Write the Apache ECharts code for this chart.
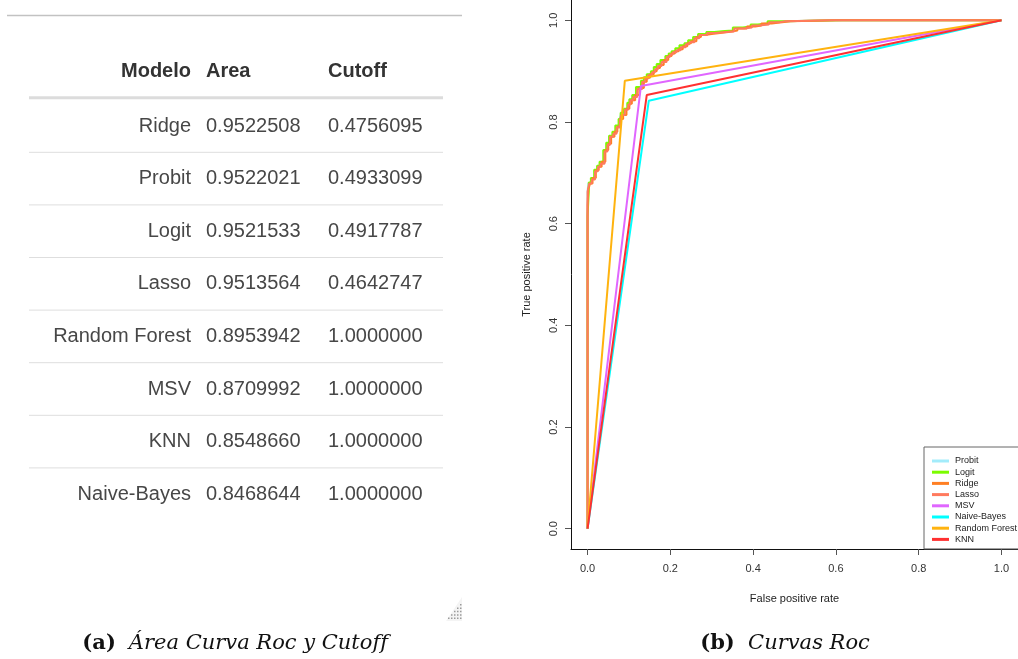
<!DOCTYPE html>
<html lang="es">
<head>
<meta charset="UTF-8">
<title>Curvas Roc</title>
<style>
  html, body { margin: 0; padding: 0; background: #fff; }
  #chart { width: 1018px; height: 659px; }
</style>
</head>
<body>
<div id="chart"></div>
<script src="https://cdn.jsdelivr.net/npm/echarts@6/dist/echarts.min.js"></script>
<script>
// tabla (a)
const tableModels = ['Ridge', 'Probit', 'Logit', 'Lasso', 'Random Forest', 'MSV', 'KNN', 'Naive-Bayes']
const tableAreas = [0.9522508, 0.9522021, 0.9521533, 0.9513564, 0.8953942, 0.8709992, 0.8548660, 0.8468644]
const tableCutoffs = [0.4756095, 0.4933099, 0.4917787, 0.4642747, 1, 1, 1, 1]
const tableHeader = ['Modelo', 'Area', 'Cutoff']

// curvas roc (b): [fpr, tpr]
const legendNames = ['Probit', 'Logit', 'Ridge', 'Lasso', 'MSV', 'Naive-Bayes', 'Random Forest', 'KNN']
const lineColors = ['#a3ecfb', '#7cfc00', '#ff7f24', '#ff7a5e', '#e066ff', '#00ffff', '#ffb30f', '#ff3030']
const xTicks = [0, 0.2, 0.4, 0.6, 0.8, 1.0]
const yTicks = [0, 0.2, 0.4, 0.6, 0.8, 1.0]

const rocProbit = [[0, 0], [0, 0.620], [0.002, 0.664], [0.009, 0.680], [0.017, 0.689], [0.024, 0.704], [0.030, 0.713],
  [0.040, 0.720], [0.047, 0.744], [0.053, 0.757], [0.061, 0.772], [0.069, 0.779], [0.077, 0.791], [0.081, 0.805],
  [0.089, 0.816], [0.097, 0.825], [0.102, 0.836], [0.109, 0.844], [0.119, 0.851], [0.131, 0.867], [0.138, 0.880],
  [0.145, 0.886], [0.155, 0.893], [0.162, 0.899], [0.169, 0.906], [0.178, 0.912], [0.190, 0.920], [0.198, 0.929],
  [0.205, 0.934], [0.214, 0.938], [0.224, 0.943], [0.236, 0.949], [0.245, 0.954], [0.257, 0.959], [0.269, 0.966],
  [0.277, 0.972], [0.288, 0.972], [0.308, 0.976], [0.334, 0.978], [0.353, 0.979], [0.377, 0.985], [0.396, 0.987],
  [0.413, 0.991], [0.437, 0.993], [0.460, 0.997], [0.477, 0.998], [0.600, 1.0], [1, 1]]
const rocLogit = [[0, 0], [0, 0.609], [0.003, 0.614], [0.003, 0.665], [0.008, 0.681], [0.016, 0.690], [0.023, 0.706],
  [0.029, 0.714], [0.038, 0.722], [0.045, 0.745], [0.052, 0.759], [0.060, 0.773], [0.067, 0.781], [0.075, 0.793],
  [0.080, 0.806], [0.088, 0.818], [0.096, 0.826], [0.101, 0.838], [0.108, 0.845], [0.117, 0.853], [0.129, 0.869],
  [0.136, 0.881], [0.143, 0.888], [0.153, 0.894], [0.160, 0.900], [0.167, 0.908], [0.176, 0.914], [0.188, 0.922],
  [0.196, 0.930], [0.203, 0.935], [0.212, 0.939], [0.222, 0.945], [0.234, 0.951], [0.243, 0.955], [0.255, 0.961],
  [0.267, 0.967], [0.275, 0.973], [0.287, 0.973], [0.306, 0.977], [0.332, 0.979], [0.351, 0.980], [0.375, 0.986],
  [0.394, 0.988], [0.411, 0.992], [0.435, 0.994], [0.458, 0.998], [0.475, 0.998], [0.615, 1.0], [1, 1]]
const rocRidge = [[0, 0], [0.002, 0.636], [0.006, 0.668], [0.012, 0.679], [0.020, 0.690], [0.027, 0.705], [0.034, 0.712],
  [0.043, 0.722], [0.050, 0.745], [0.057, 0.757], [0.065, 0.771], [0.072, 0.781], [0.080, 0.791], [0.086, 0.806],
  [0.094, 0.814], [0.101, 0.826], [0.107, 0.836], [0.115, 0.843], [0.125, 0.853], [0.136, 0.867], [0.143, 0.879],
  [0.151, 0.887], [0.160, 0.894], [0.167, 0.900], [0.175, 0.906], [0.184, 0.912], [0.195, 0.922], [0.203, 0.930],
  [0.211, 0.935], [0.220, 0.939], [0.230, 0.943], [0.241, 0.949], [0.250, 0.955], [0.263, 0.959], [0.274, 0.967],
  [0.283, 0.971], [0.300, 0.973], [0.320, 0.975], [0.340, 0.977], [0.362, 0.980], [0.385, 0.984], [0.405, 0.988],
  [0.420, 0.990], [0.445, 0.994], [0.470, 0.996], [0.490, 0.998], [0.600, 1.0], [1, 1]]
const rocLasso = [[0, 0], [0, 0.636], [0.004, 0.663], [0.010, 0.679], [0.018, 0.687], [0.025, 0.703], [0.031, 0.712],
  [0.041, 0.718], [0.048, 0.742], [0.054, 0.755], [0.062, 0.771], [0.070, 0.777], [0.078, 0.789], [0.082, 0.804],
  [0.090, 0.814], [0.098, 0.824], [0.103, 0.834], [0.110, 0.843], [0.120, 0.849], [0.132, 0.865], [0.139, 0.879],
  [0.146, 0.885], [0.156, 0.892], [0.163, 0.898], [0.170, 0.904], [0.179, 0.910], [0.191, 0.918], [0.199, 0.928],
  [0.206, 0.933], [0.215, 0.937], [0.225, 0.941], [0.237, 0.947], [0.246, 0.953], [0.258, 0.957], [0.270, 0.965],
  [0.278, 0.971], [0.289, 0.971], [0.309, 0.975], [0.335, 0.977], [0.354, 0.978], [0.378, 0.984], [0.397, 0.986],
  [0.414, 0.990], [0.438, 0.992], [0.462, 0.996], [0.478, 0.998], [0.589, 1.0], [1, 1]]
const rocMSV = [[0, 0], [0.129, 0.871], [1, 1]]
const rocNaiveBayes = [[0, 0], [0.148, 0.842], [1, 1]]
const rocRandomForest = [[0, 0], [0.090, 0.881], [1, 1]]
const rocKNN = [[0, 0], [0.143, 0.853], [1, 1]]

const rocData = [rocProbit, rocLogit, rocRidge, rocLasso, rocMSV, rocNaiveBayes, rocRandomForest, rocKNN]
const stepped = [true, true, true, true, false, false, false, false]

const sans = '"Liberation Sans", Arial, sans-serif'
const serif = '"DejaVu Serif", "Liberation Serif", serif'

// piezas de la tabla como elementos graphic
const graphics = []
graphics.push({ type: 'line', shape: { x1: 7, y1: 15.5, x2: 462, y2: 15.5 }, style: { stroke: '#c2c2c2', lineWidth: 1.5 } })

const colX = [191, 206, 328]
const colAlign = ['right', 'left', 'left']
tableHeader.forEach((h, j) => {
  graphics.push({
    type: 'text',
    style: { text: h, x: colX[j], y: 71, align: colAlign[j], verticalAlign: 'middle',
      fontFamily: sans, fontSize: 20, fontWeight: 'bold', fill: '#333' }
  })
})
graphics.push({ type: 'line', shape: { x1: 29, y1: 97.7, x2: 443, y2: 97.7 }, style: { stroke: '#dcdcdc', lineWidth: 3 } })

const rowStep = 52.6
tableModels.forEach((m, i) => {
  const y = 126 + i * rowStep
  const cells = [m, tableAreas[i].toFixed(7), tableCutoffs[i].toFixed(7)]
  cells.forEach((c, j) => {
    graphics.push({
      type: 'text',
      style: { text: c, x: colX[j], y: y, align: colAlign[j], verticalAlign: 'middle',
        fontFamily: sans, fontSize: 20, fill: '#474747' }
    })
  })
  if (i < tableModels.length - 1) {
    const ly = y + rowStep / 2
    graphics.push({ type: 'line', shape: { x1: 29, y1: ly, x2: 443, y2: ly }, style: { stroke: '#dedede', lineWidth: 1 } })
  }
})

// asa de redimension
graphics.push({ type: 'polygon', shape: { points: [[462, 597], [462, 621], [446, 621]] }, style: { fill: '#f4f4f4' } })
for (let r = 0; r < 5; r++) {
  for (let c = 0; c <= r; c++) {
    graphics.push({ type: 'rect', shape: { x: 460 - c * 3, y: 604 + r * 3.4, width: 1.5, height: 1.5 }, style: { fill: '#9a9a9a' } })
  }
}

// subtitulos
const captionRich = {
  b: { fontFamily: serif, fontSize: 21, fontWeight: 'bold', fill: '#111' },
  i: { fontFamily: serif, fontSize: 21, fontStyle: 'italic', fill: '#111' }
}
graphics.push({
  type: 'text',
  style: { text: '{b|(a)}  {i|Área Curva Roc y Cutoff}', x: 235, y: 644, align: 'center', verticalAlign: 'middle',
    rich: captionRich, fontFamily: serif, fontSize: 21, fill: '#111' }
})
graphics.push({
  type: 'text',
  style: { text: '{b|(b)}  {i|Curvas Roc}', x: 785, y: 644, align: 'center', verticalAlign: 'middle',
    rich: captionRich, fontFamily: serif, fontSize: 21, fill: '#111' }
})

const series = legendNames.map((name, k) => ({
  name: name,
  type: 'line',
  data: rocData[k],
  step: stepped[k] ? 'start' : false,
  symbol: 'none',
  animation: false,
  lineStyle: { color: lineColors[k], width: 2 },
  itemStyle: { color: lineColors[k] }
}))

const myChart = echarts.init(document.getElementById('chart'), null, { renderer: 'canvas' })
const option = {
  backgroundColor: '#fff',
  animation: false,
  grid: { left: 571, top: -2, width: 451, height: 551, containLabel: false },
  xAxis: {
    type: 'value',
    min: -0.04,
    max: 1.04,
    name: 'False positive rate',
    nameLocation: 'middle',
    nameGap: 44,
    nameTextStyle: { fontFamily: sans, fontSize: 11, color: '#222' },
    axisLine: { show: true, onZero: false, lineStyle: { color: '#111', width: 1 } },
    axisTick: { show: true, customValues: xTicks, length: 6, lineStyle: { color: '#555' } },
    axisLabel: { customValues: xTicks, formatter: v => v.toFixed(1), margin: 14,
      fontFamily: sans, fontSize: 11, color: '#333' },
    splitLine: { show: false }
  },
  yAxis: {
    type: 'value',
    min: -0.04,
    max: 1.04,
    name: 'True positive rate',
    nameLocation: 'middle',
    nameGap: 39,
    nameTextStyle: { fontFamily: sans, fontSize: 11, color: '#222' },
    axisLine: { show: true, onZero: false, lineStyle: { color: '#111', width: 1 } },
    axisTick: { show: true, customValues: yTicks, length: 6, lineStyle: { color: '#555' } },
    axisLabel: { customValues: yTicks, formatter: v => v.toFixed(1), rotate: 90, margin: 12,
      fontFamily: sans, fontSize: 11, color: '#333' },
    splitLine: { show: false }
  },
  legend: {
    data: legendNames,
    orient: 'vertical',
    left: 924,
    top: 447,
    padding: [8.5, 20, 4, 8],
    borderColor: '#666',
    borderWidth: 1,
    backgroundColor: '#fff',
    icon: 'rect',
    itemWidth: 17,
    itemHeight: 3,
    itemGap: 0.2,
    itemStyle: { borderWidth: 0 },
    textStyle: { fontFamily: sans, fontSize: 9, lineHeight: 11, color: '#222', padding: [0, 0, 0, 1] },
    selectedMode: false
  },
  graphic: graphics,
  series: series
}

myChart.setOption(option)
</script>
</body>
</html>
